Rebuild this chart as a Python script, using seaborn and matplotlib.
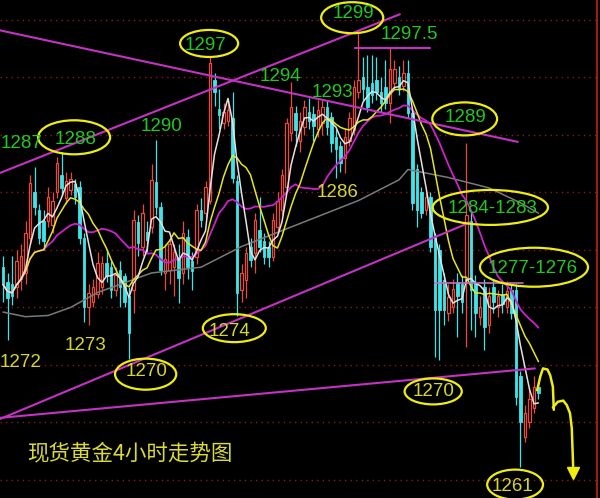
import numpy as np
import pandas as pd
import matplotlib
matplotlib.use("Agg")
import matplotlib.pyplot as plt
from matplotlib.patches import Ellipse
import seaborn as sns

# spot gold, 4h candles (left to right)
opens = [
    1278.5, 1277.2, 1277.0, 1276.8, 1277.5, 1278.0, 1281.0, 1285.0, 1283.5, 1282.5,
    1282.5, 1282.2, 1285.0, 1286.5, 1284.5, 1285.2, 1285.7, 1285.5, 1281.0, 1275.0,
    1275.5, 1276.2, 1276.8, 1278.9, 1278.5, 1276.5, 1278.3, 1277.7, 1276.0, 1276.5,
    1282.4, 1280.3, 1281.6, 1282.0, 1285.9, 1283.7, 1278.0, 1278.3, 1278.5, 1279.4,
    1278.0, 1281.1, 1279.0, 1279.4, 1283.5, 1283.2, 1284.3, 1294.8, 1292.3, 1291.0,
    1291.2, 1291.5, 1286.0, 1276.5, 1277.4, 1280.3, 1279.7, 1281.7, 1280.8, 1280.3,
    1279.4, 1282.0, 1283.5, 1285.5, 1290.2, 1291.9, 1289.5, 1290.7, 1292.0, 1291.8,
    1290.5, 1291.0, 1292.4, 1291.6, 1289.8, 1289.0, 1288.0, 1289.5, 1290.4, 1293.7,
    1295.0, 1294.2, 1294.5, 1294.8, 1293.7, 1294.2, 1292.8, 1294.5, 1295.0, 1294.3,
    1295.4, 1291.9, 1287.0, 1285.0, 1283.5, 1284.6, 1281.1, 1280.0, 1277.4, 1274.5,
    1275.0, 1277.2, 1277.0, 1277.4, 1282.5, 1277.1, 1274.2, 1276.8, 1273.5, 1276.8,
    1275.0, 1276.2, 1275.0, 1276.5, 1276.5, 1269.0, 1263.7, 1265.0, 1266.3, 1268.1,
]
highs = [
    1279.5, 1278.0, 1279.5, 1280.0, 1280.5, 1282.5, 1286.5, 1287.2, 1284.0, 1283.5,
    1285.5, 1285.0, 1288.1, 1288.5, 1286.8, 1286.8, 1286.2, 1286.0, 1281.5, 1277.0,
    1277.5, 1279.8, 1279.5, 1280.0, 1279.0, 1278.5, 1279.0, 1278.0, 1276.8, 1283.5,
    1283.0, 1284.0, 1282.5, 1287.5, 1289.6, 1284.2, 1280.5, 1281.0, 1280.5, 1280.5,
    1282.5, 1281.8, 1279.8, 1284.0, 1284.5, 1286.0, 1296.8, 1295.4, 1294.0, 1292.8,
    1293.0, 1293.7, 1286.5, 1278.8, 1280.3, 1281.0, 1283.2, 1284.6, 1281.5, 1280.8,
    1283.2, 1285.0, 1287.0, 1291.5, 1294.6, 1292.5, 1292.0, 1293.0, 1293.2, 1292.5,
    1293.0, 1293.0, 1293.0, 1292.0, 1290.5, 1289.5, 1290.5, 1292.0, 1294.8, 1299.0,
    1296.8, 1297.0, 1297.0, 1296.8, 1295.0, 1296.5, 1297.6, 1296.5, 1296.0, 1296.5,
    1296.5, 1292.3, 1287.5, 1285.5, 1285.0, 1285.0, 1281.5, 1280.5, 1278.0, 1277.0,
    1277.5, 1278.0, 1277.8, 1289.3, 1283.5, 1277.8, 1276.0, 1277.5, 1276.8, 1277.5,
    1276.5, 1277.0, 1277.3, 1277.0, 1277.0, 1269.5, 1266.5, 1268.0, 1269.0, 1268.5,
]
lows = [
    1275.5, 1272.2, 1275.2, 1275.8, 1276.5, 1277.0, 1280.5, 1283.0, 1280.5, 1280.0,
    1282.0, 1281.5, 1284.5, 1284.8, 1284.0, 1284.8, 1284.0, 1280.5, 1273.7, 1273.5,
    1275.0, 1275.8, 1276.2, 1277.2, 1275.8, 1276.0, 1275.0, 1275.0, 1270.5, 1274.5,
    1279.5, 1279.5, 1279.8, 1281.5, 1283.0, 1277.8, 1276.5, 1277.0, 1276.0, 1275.4,
    1277.0, 1277.5, 1276.5, 1278.8, 1282.0, 1282.8, 1284.0, 1292.5, 1290.5, 1290.5,
    1290.8, 1285.8, 1274.3, 1275.5, 1275.8, 1278.5, 1278.0, 1279.8, 1278.8, 1278.5,
    1279.0, 1281.5, 1283.0, 1285.0, 1289.5, 1289.0, 1288.5, 1290.0, 1290.5, 1289.5,
    1289.8, 1290.0, 1290.0, 1288.5, 1286.3, 1286.8, 1286.7, 1289.0, 1290.0, 1293.2,
    1293.0, 1292.0, 1292.8, 1293.0, 1292.0, 1292.3, 1291.0, 1294.0, 1293.5, 1293.8,
    1291.5, 1283.5, 1282.0, 1282.8, 1283.0, 1279.8, 1270.7, 1270.4, 1273.5, 1273.8,
    1274.5, 1272.4, 1274.5, 1271.6, 1273.0, 1272.4, 1273.5, 1271.3, 1272.8, 1274.5,
    1274.2, 1274.5, 1274.5, 1274.0, 1266.5, 1261.1, 1263.3, 1264.5, 1265.8, 1267.0,
]
closes = [
    1277.0, 1275.8, 1276.0, 1279.0, 1279.5, 1281.5, 1285.8, 1283.7, 1281.0, 1280.8,
    1284.6, 1284.3, 1287.6, 1285.4, 1286.0, 1286.2, 1284.6, 1281.0, 1275.0, 1276.3,
    1276.8, 1278.9, 1278.9, 1277.7, 1276.5, 1277.8, 1276.8, 1275.5, 1272.8, 1282.6,
    1280.6, 1283.2, 1280.9, 1286.1, 1283.7, 1278.3, 1279.2, 1280.5, 1279.8, 1277.6,
    1281.5, 1278.5, 1278.2, 1283.5, 1282.6, 1285.5, 1296.3, 1293.7, 1291.7, 1292.0,
    1292.2, 1286.3, 1276.3, 1278.0, 1279.7, 1279.1, 1282.6, 1280.3, 1279.4, 1279.4,
    1282.6, 1284.3, 1286.5, 1291.0, 1292.4, 1290.4, 1291.2, 1292.4, 1291.2, 1290.8,
    1292.2, 1292.4, 1290.7, 1289.3, 1288.8, 1287.6, 1289.8, 1291.5, 1294.2, 1294.8,
    1294.0, 1292.4, 1293.5, 1293.7, 1292.8, 1292.8, 1295.7, 1295.7, 1294.0, 1295.4,
    1291.9, 1284.1, 1283.5, 1283.2, 1284.6, 1280.3, 1274.8, 1274.8, 1274.8, 1275.9,
    1276.6, 1276.0, 1275.5, 1283.0, 1276.5, 1274.5, 1275.0, 1273.3, 1276.0, 1275.5,
    1276.0, 1275.3, 1276.4, 1274.5, 1267.2, 1265.0, 1265.8, 1267.0, 1268.1, 1267.6,
]

# long (gray) average at a few candles
slow_idx = [0, 5, 10, 15, 21, 33, 44, 53, 66, 79, 88, 90, 99, 108, 115, 119]
slow_val = [1274.6, 1274.2, 1274.3, 1275.0, 1276.3, 1278.0, 1278.5, 1280.3,
            1282.3, 1284.3, 1286.1, 1287.0, 1286.3, 1285.4, 1284.1, 1283.2]

grid_prices = [1260, 1265, 1270, 1275, 1280, 1285, 1290, 1295, 1300]

UP = "#ea4a3c"
DOWN = "#3ee4e8"
LINE = "#c333c3"
GREEN = "#22c822"
OLIVE = "#d6d630"
RING = "#eeee10"

sns.set_style("dark", {"axes.facecolor": "black", "figure.facecolor": "black"})

df = pd.DataFrame({"open": opens, "high": highs, "low": lows, "close": closes})
df["idx"] = np.arange(len(df))
df["ma5"] = df["close"].rolling(5, min_periods=1).mean()
df["ma10"] = df["close"].rolling(10, min_periods=1).mean()
df["ma20"] = df["close"].rolling(20, min_periods=1).mean()

fig = plt.figure(figsize=(6, 4.98), dpi=100)
ax = fig.add_axes([0, 0, 1, 1])
ax.set_facecolor("black")

for p in grid_prices:
    ax.axhline(p, color="#8a1a1a", lw=1, ls=(0, (1, 3)), zorder=0)

# candles
up = df["close"] >= df["open"]
colors = np.where(up, UP, DOWN)
ax.vlines(df["idx"], df["low"], df["high"], colors=colors, lw=0.9, zorder=2)
bottom = np.minimum(df["open"], df["close"])
height = np.maximum((df["close"] - df["open"]).abs(), 0.12)
ax.bar(df["idx"][up], height[up], bottom=bottom[up], width=0.62,
       facecolor="black", edgecolor=UP, linewidth=0.9, zorder=3)
ax.bar(df["idx"][~up], height[~up], bottom=bottom[~up], width=0.62,
       facecolor=DOWN, edgecolor=DOWN, linewidth=0.6, zorder=3)

# moving averages
sns.lineplot(x=slow_idx, y=slow_val, ax=ax, color="#7a7a7a", lw=1.1, zorder=4)
sns.lineplot(data=df, x="idx", y="ma20", ax=ax, color="#cc22cc", lw=1.3, zorder=4)
sns.lineplot(data=df, x="idx", y="ma10", ax=ax, color="#e6e61e", lw=1.1, zorder=4)
sns.lineplot(data=df, x="idx", y="ma5", ax=ax, color="#e8e0e0", lw=1.1, zorder=4)

# trend lines
trend = dict(color=LINE, lw=1.5, zorder=5)
ax.plot([-0.67, 114.4], [1299.1, 1289.4], **trend)
ax.plot([-0.67, 88.2], [1286.7, 1300.5], **trend)
ax.plot([-0.67, 103.8], [1265.3, 1282.4], **trend)
ax.plot([-0.67, 118.2], [1265.4, 1269.7], **trend)
ax.plot([78.2, 94.9], [1297.6, 1297.6], **trend)
ax.plot([96, 115.6], [1277.1, 1277.1], color="#c070c0", lw=1.2, zorder=5)

# price axis border on the right
ax.axvline(132.0, color="#c02020", lw=1.2)

# labels
num_font = dict(family="Liberation Sans", fontsize=13.5, ha="center", va="center", zorder=7)
green_labels = [
    ("1287", 4.2, 1289.3), ("1288", 16.2, 1289.6), ("1290", 35.3, 1290.7),
    ("1297", 44.9, 1297.8), ("1294", 61.6, 1295.1), ("1299", 77.8, 1300.6),
    ("1297.5", 90.4, 1298.7), ("1293", 73.1, 1293.7), ("1289", 102.7, 1291.5),
    ("1284-1283", 108.7, 1283.65), ("1277-1276", 117.6, 1278.4),
]
olive_labels = [
    ("1286", 74.4, 1285.0), ("1274", 50.4, 1272.9), ("1273", 18.4, 1271.7),
    ("1272", 4.0, 1270.2), ("1270", 31.8, 1269.4), ("1270", 95.6, 1267.7),
    ("1261", 113.3, 1259.4),
]
for s, x, y in green_labels:
    ax.text(x, y, s, color=GREEN, **num_font)
for s, x, y in olive_labels:
    ax.text(x, y, s, color=OLIVE, **num_font)

rings = [
    (15.8, 1289.8, 16.0, 2.96), (45.8, 1297.96, 12.9, 2.35), (77.6, 1300.2, 13.8, 2.7),
    (102.6, 1291.4, 14.4, 2.87), (108.3, 1283.7, 25.6, 3.04), (118.0, 1278.5, 24.0, 3.39),
    (51.4, 1273.2, 14.0, 2.43), (31.7, 1269.2, 13.6, 2.7), (95.6, 1267.7, 12.7, 2.26),
    (113.8, 1259.6, 12.4, 2.6),
]
for cx, cy, w, h in rings:
    ax.add_patch(Ellipse((cx, cy), w, h, fill=False, edgecolor=RING, lw=1.6, zorder=6))

# hand-drawn forecast arrow
ax.plot([118.7, 119.4, 120.0, 121.0, 121.6, 122.2, 122.4],
        [1267.8, 1269.0, 1269.7, 1269.6, 1269.1, 1268.1, 1266.1],
        color=RING, lw=1.8, zorder=6)
ax.plot([122.2, 123.3, 124.5, 125.3, 126.0, 126.4, 126.7],
        [1266.3, 1266.8, 1266.9, 1266.5, 1265.8, 1264.5, 1261.2],
        color=RING, lw=1.8, zorder=6)
ax.plot([126.7], [1260.6], marker="v", color=RING, markersize=8, zorder=6)

ax.text(5.3, 1262.2, "现货黄金4小时走势图", color="#dada3c", fontsize=15.5,
        family=["Noto Sans CJK SC", "DejaVu Sans"], ha="left", va="center", zorder=7)

ax.set_xlim(-0.67, 132.67)
ax.set_ylim(1258.43, 1301.74)
ax.set_xlabel("")
ax.set_ylabel("")
ax.set_xticks([])
ax.set_yticks([])
for sp in ax.spines.values():
    sp.set_visible(False)
ax.grid(False)

fig.savefig("out.png", dpi=100, facecolor="black")
